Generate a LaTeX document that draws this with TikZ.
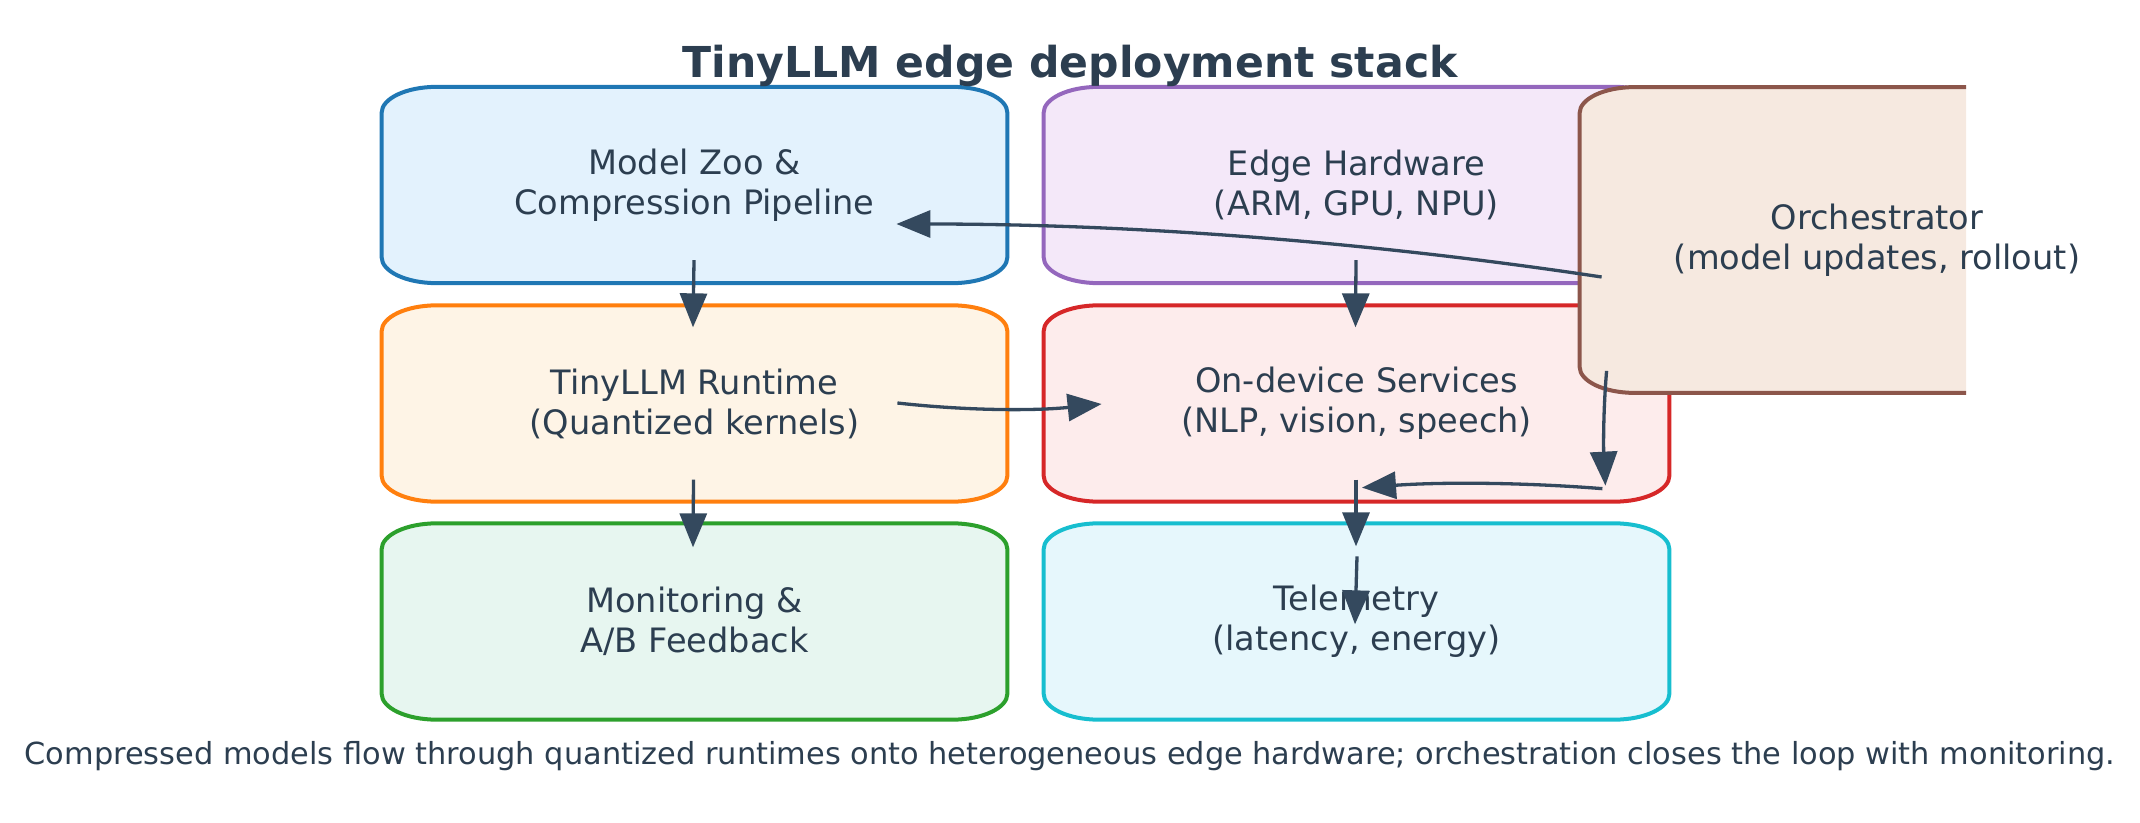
\documentclass[tikz,border=0pt]{standalone}
\usepackage{fontspec}
\setmainfont{DejaVu Sans}
\usetikzlibrary{arrows.meta,calc,backgrounds}
\definecolor{txt}{HTML}{2C3E50}
\definecolor{arrowc}{HTML}{34495E}
\definecolor{eBlue}{HTML}{1F77B4}\definecolor{fBlue}{HTML}{E3F2FD}
\definecolor{ePurple}{HTML}{9467BD}\definecolor{fPurple}{HTML}{F4E8F9}
\definecolor{eBrown}{HTML}{8C564B}\definecolor{fBrown}{HTML}{F6E9E0}
\definecolor{eOrange}{HTML}{FF7F0E}\definecolor{fOrange}{HTML}{FEF4E6}
\definecolor{eRed}{HTML}{D62728}\definecolor{fRed}{HTML}{FDECEC}
\definecolor{eGreen}{HTML}{2CA02C}\definecolor{fGreen}{HTML}{E7F6F0}
\definecolor{eCyan}{HTML}{17BECF}\definecolor{fCyan}{HTML}{E6F7FC}
\tikzset{
  lbl/.style={text=txt, font=\fontsize{16.8pt}{20pt}\selectfont, align=center, inner sep=0pt,
    minimum width=312.5pt, minimum height=97.75pt},
  titlestyle/.style={text=txt, font=\fontsize{21.3pt}{25pt}\selectfont\bfseries, inner sep=0pt, anchor=base},
  capstyle/.style={text=txt, font=\fontsize{15.2pt}{18pt}\selectfont, inner sep=0pt, anchor=base},
  conn/.style={draw=arrowc, line width=1.65pt, -{Triangle[length=17pt,width=13.5pt]}},
  boxline/.style={line width=2pt},
}
\newcommand\ellbox[3]{%
  \path[boxline, draw=#2, fill=#3]
    ($(#1.north west)+(55,0)$) -- ($(#1.north east)+(-55,0)$)
    arc[start angle=90, end angle=0, x radius=27.5pt, y radius=13pt]
    -- ($(#1.south east)+(0,-26)$)
    arc[start angle=0, end angle=-90, x radius=27.5pt, y radius=13pt]
    -- ($(#1.south west)+(55,0)$)
    arc[start angle=-90, end angle=-180, x radius=27.5pt, y radius=13pt]
    -- ($(#1.north west)+(0,26)$)
    arc[start angle=180, end angle=90, x radius=27.5pt, y radius=13pt]
    -- cycle;}
\begin{document}
\begin{tikzpicture}[x=0.5pt, y=-0.5pt]
\useasboundingbox (0,0) rectangle (2140,823);

\node[titlestyle] (title) at (1070,77.3) {TinyLLM edge deployment stack};

\node[lbl] (zoo) at (694.5,185) {Model Zoo \&\\Compression Pipeline};
\node[lbl] (hw) at (1356.5,185) {Edge Hardware\\(ARM, GPU, NPU)};
\node[lbl] (rt) at (694.5,403.5) {TinyLLM Runtime\\(Quantized kernels)};
\node[lbl] (svc) at (1356.5,403.5) {On-device Services\\(NLP, vision, speech)};
\node[lbl] (mon) at (694.5,621.5) {Monitoring \&\\A/B Feedback};
\node[lbl] (tel) at (1356.5,621.5) {Telemetry\\(latency, energy)};
\node[lbl, minimum width=297pt, minimum height=152.5pt] (orch) at (1877,240) {Orchestrator\\(model updates, rollout)};

\node[capstyle] (caption) at (1070,764) {Compressed models flow through quantized runtimes onto heterogeneous edge hardware; orchestration closes the loop with monitoring.};

\begin{scope}[on background layer]
  \ellbox{zoo}{eBlue}{fBlue}
  \ellbox{hw}{ePurple}{fPurple}
  \ellbox{rt}{eOrange}{fOrange}
  \ellbox{svc}{eRed}{fRed}
  \ellbox{mon}{eGreen}{fGreen}
  \ellbox{tel}{eCyan}{fCyan}
  \begin{scope}
    \clip (0,0) rectangle (1966,823);
    \ellbox{orch}{eBrown}{fBrown}
  \end{scope}
\end{scope}

% arrow end points
\coordinate (a1s) at ($(zoo.south)+(-0.5,-23)$);
\coordinate (a1e) at ($(rt.north)+(-1.5,22)$);
\coordinate (a2s) at ($(hw.south)+(-0.5,-23)$);
\coordinate (a2e) at ($(svc.north)+(-1,22)$);
\coordinate (a3s) at ($(rt.south)+(-1,-22)$);
\coordinate (a3e) at ($(mon.north)+(-1.5,24)$);
\coordinate (a4s) at ($(svc.south)+(-0.5,-22)$);
\coordinate (a4e) at ($(tel.north)+(-0.5,23)$);
\coordinate (a5s) at ($(rt.east)+(-110,-0.5)$);
\coordinate (a5e) at ($(svc.west)+(58,0.5)$);
\coordinate (a6s) at ($(orch.west)+(22,37)$);
\coordinate (a6e) at ($(zoo.east)+(-111,39)$);
\coordinate (a7s) at ($(orch.south west)+(27,-22)$);
\coordinate (a7e) at ($(svc.south east)+(-64,-16)$);
\coordinate (a8s) at ($(svc.south east)+(-67,-13)$);
\coordinate (a8e) at ($(svc.south)+(5.5,-14)$);
\coordinate (a9s) at ($(tel.north)+(0.5,33)$);
\coordinate (a9e) at ($(tel.north)+(-1.5,101)$);

\draw[conn] (a1s) -- (a1e);
\draw[conn] (a2s) -- (a2e);
\draw[conn] (a3s) -- (a3e);
\draw[conn] (a4s) -- (a4e);
\draw[conn] (a5s) .. controls +(69,7.7) and +(-68,7) .. (a5e);
\draw[conn] (a6s) .. controls +(-234,-35.3) and +(236.7,0) .. (a6e);
\draw[conn] (a7s) .. controls +(-3.3,38) and +(-2,-38.7) .. (a7e);
\draw[conn] (a8s) .. controls +(-80,-6.3) and +(80,-5.7) .. (a8e);
\draw[conn] (a9s) -- (a9e);
\end{tikzpicture}
\end{document}
